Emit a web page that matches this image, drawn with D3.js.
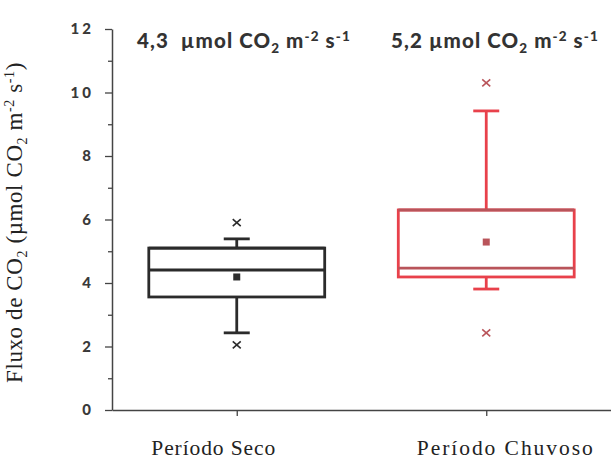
<!DOCTYPE html>
<html>
<head>
<meta charset="utf-8">
<script src="https://cdn.jsdelivr.net/npm/d3@7/dist/d3.min.js"></script>
<style>
  body { margin: 0; background: #fff; }
  svg { display: block; }
</style>
</head>
<body>
<div id="chart-area"></div>
<script>
const MARGIN = { LEFT: 112, RIGHT: 0, TOP: 29, BOTTOM: 50 }
const WIDTH = 611 - MARGIN.LEFT - MARGIN.RIGHT
const HEIGHT = 460 - MARGIN.TOP - MARGIN.BOTTOM

// data
const categories = ['Período Seco', 'Período Chuvoso']
const whiskerLow = [2.43, 3.81]
const q1 = [3.56, 4.19]
const median = [4.41, 4.47]
const q3 = [5.1, 6.3]
const whiskerHigh = [5.39, 9.42]
const means = [4.19, 5.29]
const outliers = [[5.9, 2.05], [10.3, 2.43]]
const meanLabels = ['4,3', '5,2']
const yTicks = [0, 2, 4, 6, 8, 10, 12]
const colors = ['#2b2b2b', '#e8414b']
const innerColors = ['#2b2b2b', '#b9545a']

const svg = d3.select('#chart-area').append('svg')
  .attr('width', 611)
  .attr('height', 460)

const g = svg.append('g')
  .attr('transform', `translate(${MARGIN.LEFT}, ${MARGIN.TOP})`)

const x = d3.scalePoint()
  .domain(categories)
  .range([0, WIDTH])
  .padding(0.5)

const y = d3.scaleLinear()
  .domain([0, 12])
  .range([HEIGHT, 0])

// minor ticks
g.append('g')
  .call(d3.axisLeft(y).tickValues([1, 3, 5, 7, 9, 11]).tickSize(4).tickFormat(''))
  .call(a => a.select('.domain').remove())
  .selectAll('line').attr('stroke', '#444').attr('stroke-width', 1.3)

const yAxis = g.append('g')
  .call(d3.axisLeft(y).tickValues(yTicks).tickSize(7).tickPadding(11).tickSizeOuter(0))
yAxis.select('.domain').attr('stroke', '#444').attr('stroke-width', 1.5)
yAxis.selectAll('line').attr('stroke', '#444').attr('stroke-width', 1.3)
yAxis.selectAll('text')
  .attr('font-family', 'Lato')
  .attr('font-weight', 900)
  .attr('font-size', 15)
  .attr('fill', '#3a3a3a')
  .attr('letter-spacing', 3)

const xAxis = g.append('g')
  .attr('transform', `translate(0, ${HEIGHT})`)
  .call(d3.axisBottom(x).tickSize(6).tickPadding(24).tickSizeOuter(0))
xAxis.select('.domain').attr('stroke', '#444').attr('stroke-width', 1.5)
xAxis.selectAll('line').attr('stroke', '#444').attr('stroke-width', 1.3)
// labels sit a little off their ticks in the original
const labelShift = [-24, 18]
const labelLen = [124, 176]
xAxis.selectAll('text')
  .attr('font-family', 'Liberation Serif')
  .attr('font-size', 21.5)
  .attr('fill', '#222')
  .attr('dx', (d, i) => labelShift[i])
  .attr('textLength', (d, i) => labelLen[i])
  .attr('lengthAdjust', 'spacing')

const boxW = x.step() * 0.705
const capW = 26

categories.forEach((c, i) => {
  const cx = x(c)
  const col = colors[i]
  const bg = g.append('g')

  // whiskers
  bg.append('line')
    .attr('x1', cx).attr('x2', cx)
    .attr('y1', y(q3[i])).attr('y2', y(whiskerHigh[i]))
    .attr('stroke', col).attr('stroke-width', 2.8)
  bg.append('line')
    .attr('x1', cx).attr('x2', cx)
    .attr('y1', y(q1[i])).attr('y2', y(whiskerLow[i]))
    .attr('stroke', col).attr('stroke-width', 2.8)
  ;[whiskerHigh[i], whiskerLow[i]].forEach(v => {
    bg.append('line')
      .attr('x1', cx - capW / 2).attr('x2', cx + capW / 2)
      .attr('y1', y(v)).attr('y2', y(v))
      .attr('stroke', col).attr('stroke-width', 2.8)
  })

  // box
  bg.append('rect')
    .attr('x', cx - boxW / 2)
    .attr('y', y(q3[i]))
    .attr('width', boxW)
    .attr('height', y(q1[i]) - y(q3[i]))
    .attr('fill', 'none')
    .attr('stroke', col)
    .attr('stroke-width', 2.8)
  bg.append('line')
    .attr('x1', cx - boxW / 2).attr('x2', cx + boxW / 2)
    .attr('y1', y(q3[i])).attr('y2', y(q3[i]))
    .attr('stroke', innerColors[i]).attr('stroke-width', 2.8)
  bg.append('line')
    .attr('x1', cx - boxW / 2).attr('x2', cx + boxW / 2)
    .attr('y1', y(median[i])).attr('y2', y(median[i]))
    .attr('stroke', innerColors[i]).attr('stroke-width', 2.8)

  // mean
  bg.append('rect')
    .attr('x', cx - 3.5).attr('y', y(means[i]) - 3.5)
    .attr('width', 7).attr('height', 7)
    .attr('fill', innerColors[i])

  // outliers
  outliers[i].forEach(v => {
    const py = y(v)
    bg.append('path')
      .attr('d', `M${cx - 4},${py - 3.5}L${cx + 4},${py + 3.5}M${cx - 4},${py + 3.5}L${cx + 4},${py - 3.5}`)
      .attr('stroke', innerColors[i]).attr('stroke-width', 1.6)
  })
})

// mean annotations at top
const annX = [137, 391]
meanLabels.forEach((lab, i) => {
  const t = svg.append('text')
    .attr('x', annX[i]).attr('y', 48)
    .attr('font-family', 'Lato')
    .attr('font-weight', 900)
    .attr('font-size', 20.5)
    .attr('fill', '#333')
    .attr('letter-spacing', 1.1)
  t.append('tspan').text(lab + (i === 0 ? '\u00a0\u00a0' : ' ') + 'µmol CO')
  t.append('tspan').text('2').attr('font-size', 13.5).attr('dy', 5)
  t.append('tspan').text(' m').attr('dy', -5)
  t.append('tspan').text('-2').attr('font-size', 13.5).attr('dy', -7)
  t.append('tspan').text(' s').attr('dy', 7)
  t.append('tspan').text('-1').attr('font-size', 13.5).attr('dy', -7)
})

// y label
const yl = svg.append('text')
  .attr('transform', `translate(22, 383) rotate(-90)`)
  .attr('font-family', 'Liberation Serif')
  .attr('font-size', 23)
  .attr('fill', '#222')
  .attr('letter-spacing', 0.6)
yl.append('tspan').text('Fluxo de CO')
yl.append('tspan').text('2').attr('font-size', 14).attr('dy', 5)
yl.append('tspan').text(' (µmol CO').attr('dy', -5)
yl.append('tspan').text('2').attr('font-size', 14).attr('dy', 5)
yl.append('tspan').text(' m').attr('dy', -5)
yl.append('tspan').text('-2').attr('font-size', 14).attr('dy', -8)
yl.append('tspan').text(' s').attr('dy', 8)
yl.append('tspan').text('-1').attr('font-size', 14).attr('dy', -8)
yl.append('tspan').text(')').attr('dy', 8)
</script>
</body>
</html>
